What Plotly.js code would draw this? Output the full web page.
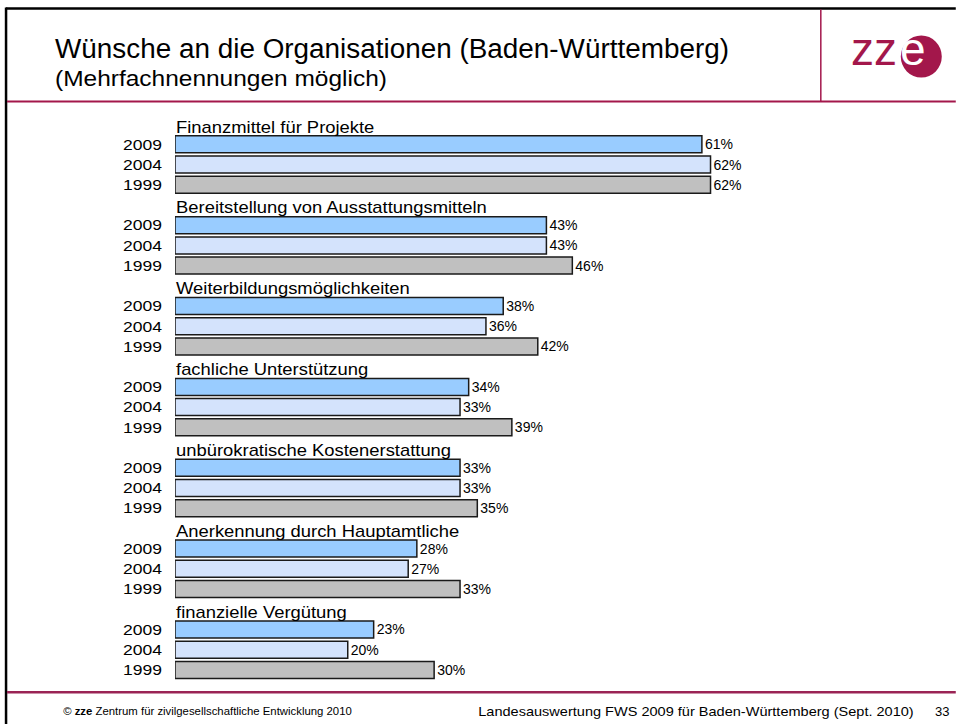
<!DOCTYPE html>
<html><head><meta charset="utf-8">
<script src="https://cdn.plot.ly/plotly-3.0.1.min.js"></script>
<style>html,body{margin:0;padding:0;background:#fff;} #chart{width:956px;height:724px;}</style>
</head><body><div id="chart"></div>
<script>
// ---- data ----
const categories = [
  'Finanzmittel für Projekte',
  'Bereitstellung von Ausstattungsmitteln',
  'Weiterbildungsmöglichkeiten',
  'fachliche Unterstützung',
  'unbürokratische Kostenerstattung',
  'Anerkennung durch Hauptamtliche',
  'finanzielle Vergütung'
];
const years = ['2009', '2004', '1999'];
const values2009 = [61, 43, 38, 34, 33, 28, 23];
const values2004 = [62, 43, 36, 33, 33, 27, 20];
const values1999 = [62, 46, 42, 39, 35, 33, 30];
const seriesValues = [values2009, values2004, values1999];

const titleText = 'Wünsche an die Organisationen (Baden-Württemberg)';
const subtitleText = '(Mehrfachnennungen möglich)';
const footerLeft = '© <b>zze</b> Zentrum für zivilgesellschaftliche Entwicklung 2010';
const footerRight = 'Landesauswertung FWS 2009 für Baden-Württemberg (Sept. 2010)';
const pageNumber = '33';

// ---- layout geometry ----
const W = 956, H = 724;
const M = {l: 175, r: 89.8, t: 114.4, b: 44.3};
const PW = W - M.l - M.r, PH = H - M.t - M.b;
const px = x => (x - M.l) / PW;
const py = y => 1 - (y - M.t) / PH;
const FONT = 'Liberation Sans, Arial, sans-serif';
const RED = '#A3174B';
const colors = ['#99CCFF', '#D4E3FC', '#C0C0C0'];
const ROWS = categories.length * 4;

const traces = years.map((yr, k) => ({
  type: 'bar', orientation: 'h', name: yr,
  x: seriesValues[k],
  y: categories.map((c, g) => g * 4 + 1 + k),
  width: 0.84,
  marker: {color: colors[k], line: {color: '#1a1a1a', width: 1.5}},
  text: seriesValues[k].map(v => v + '%'),
  textposition: 'outside', constraintext: 'none', cliponaxis: false,
  textfont: {family: FONT, size: 14, color: '#000'},
  hoverinfo: 'none'
}));

const tickvals = [], ticktext = [];
categories.forEach((c, g) => years.forEach((yr, k) => { tickvals.push(g * 4 + 1 + k); ticktext.push(yr); }));

const annotations = [], stretch = [];
function addText(text, x, y, size, opt, st) {
  annotations.push(Object.assign({
    text: text, xref: 'paper', yref: 'paper', x: px(x), y: py(y),
    xanchor: 'left', yanchor: 'middle', showarrow: false,
    font: {family: FONT, size: size, color: '#000'}
  }, opt || {}));
  stretch.push(st || null);
}
addText(titleText, 53, 49, 27, {}, {w: 674, anchor: 'left'});
addText(subtitleText, 53, 79, 22.5, {}, {w: 332, anchor: 'left'});
addText('zz', 849, 49, 46, {font: {family: FONT, size: 46, color: RED}});
addText(footerLeft, 61, 711, 11.5, {}, {w: 289, anchor: 'left'});
addText(footerRight, 476, 711, 13, {}, {w: 436, anchor: 'left'});
addText(pageNumber, 933, 711, 13);
categories.forEach((c, g) => {
  annotations.push({
    text: c, xref: 'paper', yref: 'y', x: px(174), y: g * 4, yshift: -3,
    xanchor: 'left', yanchor: 'middle', showarrow: false,
    font: {family: FONT, size: 16, color: '#000'}
  });
  stretch.push({f: 1.15, anchor: 'left'});
});
addText('e', 898, 49, 46, {font: {family: FONT, size: 46, color: '#fff'}});

const shapes = [
  {type: 'line', xref: 'paper', yref: 'paper', x0: px(6), x1: px(W), y0: py(9), y1: py(9), line: {color: '#000', width: 2.5}},
  {type: 'line', xref: 'paper', yref: 'paper', x0: px(6), x1: px(6), y0: py(8), y1: py(H), line: {color: '#000', width: 2.5}},
  {type: 'line', xref: 'paper', yref: 'paper', x0: px(7), x1: px(W), y0: py(102), y1: py(102), line: {color: RED, width: 2}},
  {type: 'line', xref: 'paper', yref: 'paper', x0: px(821), x1: px(821), y0: py(10), y1: py(102), line: {color: RED, width: 1.5}},
  {type: 'line', xref: 'paper', yref: 'paper', x0: px(7), x1: px(W), y0: py(692), y1: py(692), line: {color: '#9A2455', width: 2.5}},
  {type: 'circle', xref: 'paper', yref: 'paper', x0: px(901), x1: px(942), y0: py(36), y1: py(78), fillcolor: RED, line: {width: 0}, layer: 'below'}
];

const layout = {
  width: W, height: H, margin: M, showlegend: false,
  paper_bgcolor: '#fff', plot_bgcolor: 'rgba(0,0,0,0)',
  barmode: 'overlay',
  xaxis: {range: [0, 80], showgrid: false, zeroline: false, showticklabels: false, showline: false, fixedrange: true},
  yaxis: {range: [ROWS - 0.5, -0.5], tickvals: tickvals, ticktext: ticktext, showgrid: false, zeroline: false,
          ticks: '', showline: false, ticklabelstandoff: 12, tickfont: {family: FONT, size: 15, color: '#000'}, fixedrange: true},
  annotations: annotations, shapes: shapes, font: {family: FONT}
};

function scaleText(el, f, anchor) {
  const bb = el.getBBox();
  const ax = anchor === 'right' ? bb.x + bb.width : bb.x;
  const prev = el.getAttribute('transform') || '';
  el.setAttribute('transform', prev + ' translate(' + ax + ',0) scale(' + f + ',1) translate(' + (-ax) + ',0)');
}

Plotly.newPlot('chart', traces, layout, {staticPlot: true}).then(gd => {
  gd.querySelectorAll('g.annotation').forEach(g => {
    const i = +g.getAttribute('data-index');
    const s = stretch[i];
    if (!s) return;
    const t = g.querySelector('text.annotation-text');
    if (!t) return;
    const f = s.w ? s.w / t.getBBox().width : s.f;
    scaleText(t, f, s.anchor);
  });
  gd.querySelectorAll('.ytick text').forEach(t => scaleText(t, 39 / t.getBBox().width, 'right'));
});
</script>
</body></html>
